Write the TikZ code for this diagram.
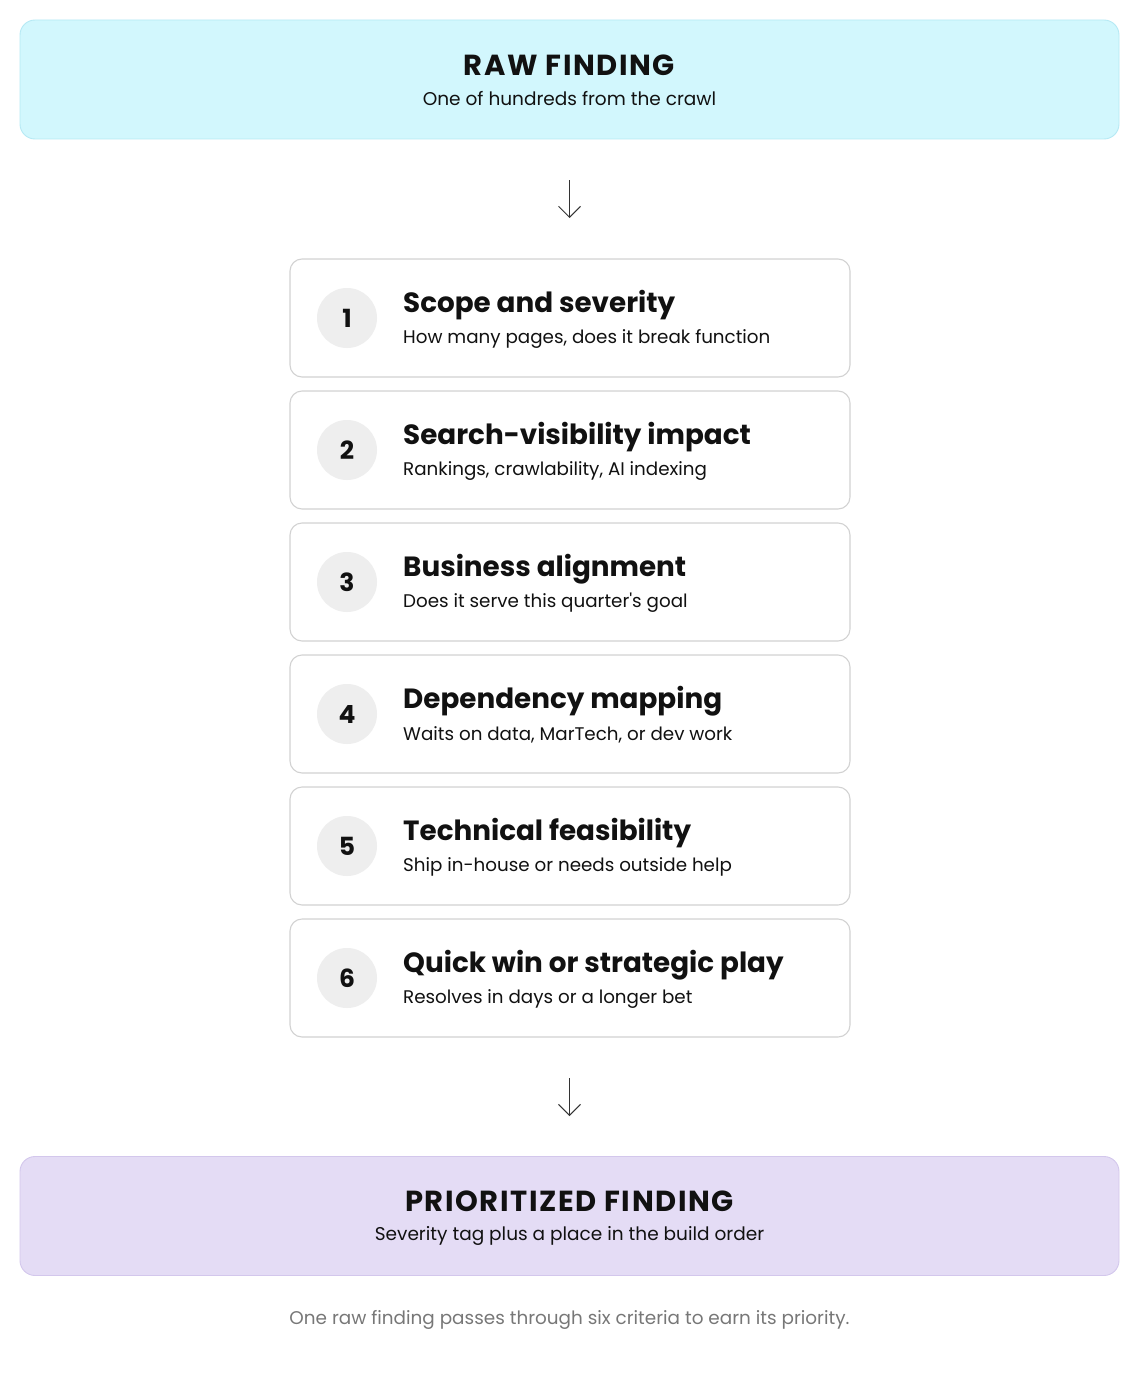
\documentclass[tikz,border=0pt]{standalone}
\usepackage{fontspec}
\setmainfont{Poppins}[Ligatures=TeXOff]
\usetikzlibrary{arrows.meta}
\definecolor{topfill}{HTML}{D2F7FD}
\definecolor{topdraw}{HTML}{B5E9F4}
\definecolor{botfill}{HTML}{E4DCF5}
\definecolor{botdraw}{HTML}{D3C7EC}
\definecolor{stepdraw}{HTML}{D2D2D2}
\definecolor{circfill}{HTML}{EEEEEE}
\definecolor{captgray}{HTML}{777777}
\definecolor{txt}{HTML}{111111}
\tikzset{
  endbox/.style={rounded corners=15pt, line width=0.9pt, minimum width=1099pt, minimum height=119pt, inner sep=0pt},
  stepbox/.style={draw=stepdraw, fill=white, rounded corners=12pt, line width=1.1pt, minimum width=560pt, minimum height=118pt, inner sep=0pt},
  numcirc/.style={circle, fill=circfill, minimum size=60pt, inner sep=0pt, font=\fontsize{25}{30}\selectfont\bfseries, text=txt},
  captitle/.style={font=\fontsize{29}{34}\selectfont\bfseries\addfontfeature{LetterSpace=5.5}, text=txt, inner sep=0pt},
  capsub/.style={font=\fontsize{18.5}{22}\selectfont, text=txt, inner sep=0pt},
  ttl/.style={anchor=west, font=\fontsize{27.8}{32}\selectfont\bfseries, text=txt, inner sep=0pt},
  sub/.style={anchor=west, font=\fontsize{18.3}{22}\selectfont, text=txt, inner sep=0pt},
  flowarrow/.style={-{Straight Barb[length=11pt,width=25pt,angle'=90]}, line width=1pt, draw=black!80}
}
\begin{document}
\begin{tikzpicture}[x=1pt,y=-1pt]
\useasboundingbox (0,0) rectangle (1140,1386);
% top box
\node[endbox, draw=topdraw, fill=topfill] (raw) at (569.5,79.5) {};
\node[captitle] (rawt) at (569.5,65) {RAW FINDING};
\node[capsub] (raws) at (569.5,99) {One of hundreds from the crawl};
% arrow
\coordinate (a1s) at (569.5,180);
\coordinate (a1e) at (569.5,218);
\draw[flowarrow] (a1s) -- (a1e);
% steps
\foreach \i/\t/\s in {1/Scope and severity/{How many pages, does it break function},
                       2/Search-visibility impact/{Rankings, crawlability, AI indexing},
                       3/Business alignment/{Does it serve this quarter's goal},
                       4/Dependency mapping/{Waits on data, MarTech, or dev work},
                       5/Technical feasibility/{Ship in-house or needs outside help},
                       6/Quick win or strategic play/{Resolves in days or a longer bet}} {
  \pgfmathsetmacro{\cy}{318+132*(\i-1)}
  \node[stepbox] (step\i) at (570,\cy) {};
  \node[numcirc] (num\i) at (347,\cy) {\i};
  \node[ttl] (title\i) at (403,\cy-13) {\t};
  \node[sub] (sub\i) at (403,\cy+21) {\s};
}
\coordinate (a2s) at (569.5,1078);
\coordinate (a2e) at (569.5,1116);
\draw[flowarrow] (a2s) -- (a2e);
% bottom box
\node[endbox, draw=botdraw, fill=botfill] (prio) at (569.5,1216) {};
\node[captitle] (priot) at (569.5,1201) {PRIORITIZED FINDING};
\node[capsub] (prios) at (569.5,1236) {Severity tag plus a place in the build order};
\node[font=\fontsize{18.4}{22}\selectfont, text=captgray, inner sep=0pt] (capt) at (569.5,1320) {One raw finding passes through six criteria to earn its priority.};
\end{tikzpicture}
\end{document}
